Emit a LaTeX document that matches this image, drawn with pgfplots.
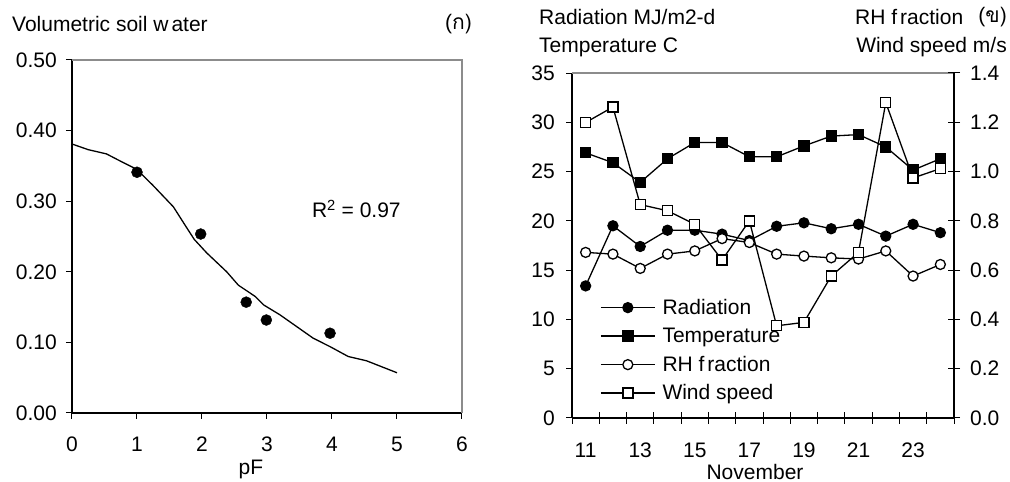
\documentclass[border=0pt]{standalone}
\usepackage{fontspec}
\setmainfont{Liberation Sans}
\newfontfamily\thaifont[Script=Thai]{Loma}
\usepackage{pgfplots}
\usepackage{pgfplotstable}
\pgfplotsset{compat=1.18}
\newcommand\fs{\fontsize{21}{25}\selectfont}
\definecolor{framegray}{gray}{0.55}

\pgfplotstableread{
day rad temp rh wind
11 13.4 26.9 0.672 1.199
12 19.5 25.9 0.665 1.262
13 17.4 23.9 0.607 0.866
14 19.05 26.3 0.665 0.841
15 19.05 27.95 0.678 0.786
16 18.65 27.95 0.728 0.641
17 18.0 26.5 0.712 0.800
18 19.45 26.5 0.665 0.374
19 19.8 27.6 0.657 0.388
20 19.2 28.6 0.650 0.576
21 19.65 28.75 0.645 0.672
22 18.45 27.5 0.678 1.280
23 19.65 25.15 0.576 0.974
24 18.8 26.3 0.623 1.012
}\weather

\begin{document}
\begin{tikzpicture}[x=1pt,y=1pt]
\useasboundingbox (0,0) rectangle (1010,482);
% ---------------- left chart
\begin{axis}[at={(72pt,69pt)}, anchor=south west, scale only axis,
  width=390pt, height=353pt,
  xmin=0, xmax=6, ymin=0, ymax=0.5,
  axis x line*=bottom, axis y line*=left,
  axis line style={-, line width=1.2pt, black},
  every tick/.style={black, line width=1pt},
  tick align=outside, major tick length=6pt,
  xtick={0,1,2,3,4,5,6}, ytick={0,0.1,0.2,0.3,0.4,0.5},
  font=\fs, tick label style={font=\fs},
  /pgf/number format/assume math mode=true,
  yticklabel style={/pgf/number format/fixed, /pgf/number format/fixed zerofill, /pgf/number format/precision=2, anchor=east, inner sep=0pt, xshift=-9pt},
  xticklabel style={anchor=north, inner sep=0pt, yshift=-18pt},
  clip=false,
]
\draw[framegray, line width=1.4pt] (rel axis cs:0,1) -- (rel axis cs:1,1) -- (rel axis cs:1,0);
\addplot[black, line width=1.3pt, mark=none] coordinates {
(0,0.381)(0.25,0.373)(0.53,0.367)(0.74,0.357)(1.0,0.345)(1.25,0.322)(1.56,0.292)(1.74,0.266)(1.88,0.246)(2.07,0.227)(2.38,0.200)(2.56,0.181)(2.82,0.165)(2.95,0.153)(3.2,0.139)(3.71,0.106)(3.97,0.094)(4.25,0.080)(4.53,0.074)(5.0,0.057)};
\addplot[only marks, mark=*, mark size=5.5pt, black] coordinates {
(1,0.341)(1.98,0.2535)(2.68,0.157)(2.99,0.1317)(3.97,0.113)};
\node[anchor=west, inner sep=0pt, font=\fs] at (axis cs:3.69,0.289) {R\textsuperscript{2} = 0.97};
\end{axis}
\node[anchor=west, inner sep=0pt, font=\fs] at (12,458) {Volumetric soil w\kern3pt ater};
\node[anchor=east, inner sep=0pt, font=\fs] at (472,458) {(\thaifont ก)};
\node[anchor=center, inner sep=0pt, font=\fs] at (251,13) {pF};
% ---------------- right chart, left axis
\begin{axis}[at={(572pt,64pt)}, anchor=south west, scale only axis,
  width=382pt, height=345pt,
  xmin=10.5, xmax=24.5, ymin=0, ymax=35,
  axis x line*=bottom, axis y line*=left,
  axis line style={-, line width=1.2pt, black},
  every tick/.style={black, line width=1pt},
  xtick={11,13,15,17,19,21,23}, x tick style={draw=none},
  ytick={0,5,10,15,20,25,30,35},
  tick align=outside, major tick length=6pt,
  font=\fs, tick label style={font=\fs},
  /pgf/number format/assume math mode=true,
  yticklabel style={anchor=east, inner sep=0pt, xshift=-11pt},
  xticklabel style={anchor=north, inner sep=0pt, yshift=-19pt},
  clip=false,
]
\draw[framegray, line width=1.4pt] (rel axis cs:0,1) -- (rel axis cs:1,1);
\addplot[black, line width=1.3pt, mark=*, mark size=5pt, mark options={fill=black}] table[x=day, y=rad] {\weather};
\addplot[black, line width=1.3pt, mark=square*, mark size=5pt, mark options={fill=black}] table[x=day, y=temp] {\weather};
\end{axis}
% ---------------- right chart, right axis
\begin{axis}[at={(572pt,64pt)}, anchor=south west, scale only axis,
  width=382pt, height=345pt,
  xmin=10.5, xmax=24.5, ymin=0, ymax=1.4,
  axis x line*=bottom, axis y line*=right,
  axis line style={-, line width=1.2pt, black},
  every tick/.style={black, line width=1pt},
  xtick={10.5,11.5,...,24.5}, xticklabels={},
  ytick={0,0.2,0.4,0.6,0.8,1.0,1.2,1.4},
  tick align=center, major tick length=12pt,
  font=\fs, tick label style={font=\fs},
  /pgf/number format/assume math mode=true,
  yticklabel style={/pgf/number format/fixed, /pgf/number format/fixed zerofill, /pgf/number format/precision=1, anchor=west, inner sep=0pt, xshift=10pt},
  clip=false,
  legend style={at={(0.0733,0.348)}, anchor=north west, draw=none, fill=none,
    inner sep=0pt, row sep=9.5pt, column sep=7pt,
    nodes={inner sep=0pt, text height=16pt, text depth=3pt, font=\fs}},
  legend cell align=left,
  legend image code/.code={\draw[mark repeat=2, mark phase=2, #1] plot coordinates {(0pt,0pt) (27pt,0pt) (54pt,0pt)};},
]
\addlegendimage{black, line width=1.3pt, mark=*, mark size=5pt, mark options={fill=black}}
\addlegendentry{Radiation}
\addlegendimage{black, line width=1.3pt, mark=square*, mark size=5pt, mark options={fill=black}}
\addlegendentry{Temperature}
\addplot[black, line width=1.3pt, mark=*, mark size=5pt, mark options={fill=white}] table[x=day, y=rh] {\weather};
\addlegendentry{RH f\kern3pt raction}
\addplot[black, line width=1.3pt, mark=square*, mark size=5pt, mark options={fill=white}] table[x=day, y=wind] {\weather};
\addlegendentry{Wind speed}
\end{axis}
\node[anchor=west, inner sep=0pt, font=\fs] at (539,465) {Radiation MJ/m2-d};
\node[anchor=west, inner sep=0pt, font=\fs] at (539,435) {Temperature C};
\node[anchor=west, inner sep=0pt, font=\fs] at (855,465) {RH f\kern3pt raction};
\node[anchor=east, inner sep=0pt, font=\fs] at (1007,465) {(\thaifont ข)};
\node[anchor=east, inner sep=0pt, font=\fs] at (1007,435) {Wind speed m/s};
\node[anchor=center, inner sep=0pt, font=\fs] at (755,10) {November};
\end{tikzpicture}
\end{document}
